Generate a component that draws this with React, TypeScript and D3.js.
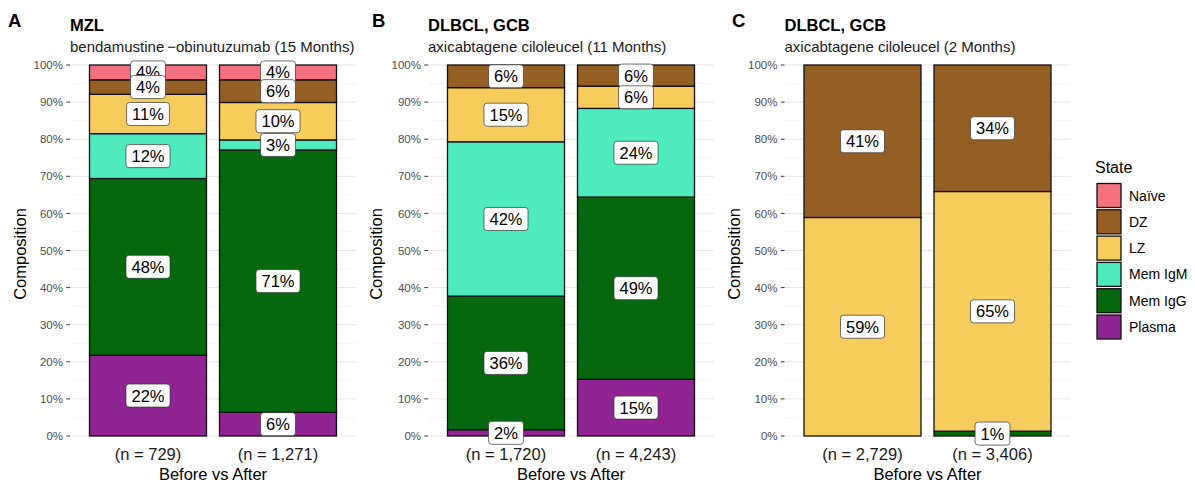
import React, { useEffect, useRef } from 'react';
import * as d3 from 'd3';

// cell states, top of the stack first
const states = ['Naïve', 'DZ', 'LZ', 'Mem IgM', 'Mem IgG', 'Plasma'];
const stateColors = ['#F5717F', '#955F23', '#F6CD5C', '#4DEBBE', '#05680F', '#8F2492'];

// percentages per state (same order as states)
const mzlCounts = ['(n = 729)', '(n = 1,271)'];
const mzlBefore = [4.0, 3.9, 10.6, 12.1, 47.6, 21.8];
const mzlAfter = [4.0, 6.1, 10.1, 2.7, 70.7, 6.4];

const axiCel11Counts = ['(n = 1,720)', '(n = 4,243)'];
const axiCel11Before = [0, 6.1, 14.6, 41.6, 36.0, 1.7];
const axiCel11After = [0, 5.7, 6.0, 23.9, 49.1, 15.3];

const axiCel2Counts = ['(n = 2,729)', '(n = 3,406)'];
const axiCel2Before = [0, 41.1, 58.9, 0, 0, 0];
const axiCel2After = [0, 34.1, 64.6, 0, 1.3, 0];

const yTicks = [0, 10, 20, 30, 40, 50, 60, 70, 80, 90, 100];
const yMinorTicks = [5, 15, 25, 35, 45, 55, 65, 75, 85, 95];

const panels = [
  { tag: 'A', title: 'MZL', subtitle: 'bendamustine\u2009\u2212obinutuzumab (15 Months)', counts: mzlCounts, bars: [mzlBefore, mzlAfter], left: 70, tagX: 8, axisX: 26 },
  { tag: 'B', title: 'DLBCL, GCB', subtitle: 'axicabtagene ciloleucel (11 Months)', counts: axiCel11Counts, bars: [axiCel11Before, axiCel11After], left: 428, tagX: 372, axisX: 382 },
  { tag: 'C', title: 'DLBCL, GCB', subtitle: 'axicabtagene ciloleucel (2 Months)', counts: axiCel2Counts, bars: [axiCel2Before, axiCel2After], left: 784.5, tagX: 732, axisX: 740 },
];

const FONT = '"Liberation Sans", Arial, sans-serif';

const App = () => {
  const svgRef = useRef<SVGSVGElement>(null);

  useEffect(() => {
    const svg = d3.select(svgRef.current);
    svg.selectAll('*').remove();

    const panelWidth = 286;
    const y = d3.scaleLinear().domain([0, 100]).range([436, 65]);
    const color = d3.scaleOrdinal<string, string>().domain(states).range(stateColors);

    panels.forEach(p => {
      const g = svg.append('g').attr('font-family', FONT);
      const x = d3.scaleBand<number>()
        .domain([0, 1])
        .range([p.left, p.left + panelWidth])
        .paddingInner(0.1)
        .paddingOuter(0.15);

      // grid
      g.selectAll('.minor')
        .data(yMinorTicks)
        .enter()
        .append('line')
        .attr('x1', p.left).attr('x2', p.left + panelWidth)
        .attr('y1', d => y(d)).attr('y2', d => y(d))
        .attr('stroke', '#F0F0F0').attr('stroke-width', 0.7);
      g.selectAll('.major')
        .data(yTicks)
        .enter()
        .append('line')
        .attr('x1', p.left).attr('x2', p.left + panelWidth)
        .attr('y1', d => y(d)).attr('y2', d => y(d))
        .attr('stroke', '#E6E6E6').attr('stroke-width', 1);

      // y axis ticks
      g.selectAll('.tick')
        .data(yTicks)
        .enter()
        .append('line')
        .attr('x1', p.left - 3.7).attr('x2', p.left)
        .attr('y1', d => y(d)).attr('y2', d => y(d))
        .attr('stroke', '#333').attr('stroke-width', 1);
      g.selectAll('.ylab')
        .data(yTicks)
        .enter()
        .append('text')
        .attr('x', p.left - 7)
        .attr('y', d => y(d))
        .attr('dy', '0.36em')
        .attr('text-anchor', 'end')
        .attr('font-size', 11.5)
        .attr('fill', '#4D4D4D')
        .text(d => `${d}%`);

      // stacked bars
      p.bars.forEach((vals, i) => {
        let cum = 0;
        const segs: { state: string; lo: number; hi: number; v: number }[] = [];
        for (let k = states.length - 1; k >= 0; k--) {
          if (vals[k] <= 0) continue;
          segs.push({ state: states[k], lo: cum, hi: cum + vals[k], v: vals[k] });
          cum += vals[k];
        }
        g.selectAll(null)
          .data(segs)
          .enter()
          .append('rect')
          .attr('x', x(i)!)
          .attr('width', x.bandwidth())
          .attr('y', d => y(d.hi))
          .attr('height', d => y(d.lo) - y(d.hi))
          .attr('fill', d => color(d.state))
          .attr('stroke', '#111')
          .attr('stroke-width', 1.3);

        // labels, drawn top state first
        const cx = x(i)! + x.bandwidth() / 2;
        segs.slice().reverse().forEach(d => {
          const lg = g.append('g');
          const cy = y((d.lo + d.hi) / 2);
          const box = lg.append('rect');
          const t = lg.append('text')
            .attr('x', cx)
            .attr('y', cy)
            .attr('dy', '0.36em')
            .attr('text-anchor', 'middle')
            .attr('font-size', 16.5)
            .attr('fill', '#000')
            .text(`${Math.round(d.v)}%`);
          const w = (t.node() as SVGTextElement).getComputedTextLength() + 11;
          const h = 23;
          box.attr('x', cx - w / 2).attr('y', cy - h / 2)
            .attr('width', w).attr('height', h)
            .attr('rx', 3).attr('ry', 3)
            .attr('fill', 'white')
            .attr('stroke', '#333')
            .attr('stroke-width', 0.7);
        });
      });

      // x labels
      g.selectAll('.xlab')
        .data(p.counts)
        .enter()
        .append('text')
        .attr('x', (d, i) => x(i)! + x.bandwidth() / 2)
        .attr('y', 460)
        .attr('text-anchor', 'middle')
        .attr('font-size', 16.5)
        .attr('fill', '#1A1A1A')
        .text(d => d);

      g.append('text')
        .attr('x', p.left + panelWidth / 2)
        .attr('y', 480)
        .attr('text-anchor', 'middle')
        .attr('font-size', 16.5)
        .attr('fill', '#000')
        .text('Before vs After');

      g.append('text')
        .attr('transform', `translate(${p.axisX},254) rotate(-90)`)
        .attr('text-anchor', 'middle')
        .attr('font-size', 16.5)
        .attr('fill', '#000')
        .text('Composition');

      // titles
      g.append('text')
        .attr('x', p.tagX).attr('y', 27)
        .attr('font-size', 18.5).attr('font-weight', 'bold')
        .text(p.tag);
      g.append('text')
        .attr('x', p.left).attr('y', 31)
        .attr('font-size', 16.5).attr('font-weight', 'bold')
        .text(p.title);
      g.append('text')
        .attr('x', p.left).attr('y', 52)
        .attr('font-size', 15)
        .attr('fill', '#1A1A1A')
        .text(p.subtitle);
    });

    // legend
    const lg = svg.append('g').attr('font-family', FONT);
    lg.append('text')
      .attr('x', 1095).attr('y', 173)
      .attr('font-size', 16)
      .text('State');
    const item = lg.selectAll('.item')
      .data(states)
      .enter()
      .append('g')
      .attr('transform', (d, i) => `translate(1097,${183.5 + i * 26.3})`);
    item.append('rect')
      .attr('width', 24).attr('height', 24)
      .attr('fill', d => color(d))
      .attr('stroke', '#111').attr('stroke-width', 1.3);
    item.append('text')
      .attr('x', 32).attr('y', 12)
      .attr('dy', '0.36em')
      .attr('font-size', 14)
      .text(d => d);
  }, []);

  return (
    <svg ref={svgRef} width={1195} height={484} style={{ position: 'absolute', left: 0, top: 0, background: 'white' }}></svg>
  );
};

export default App;
